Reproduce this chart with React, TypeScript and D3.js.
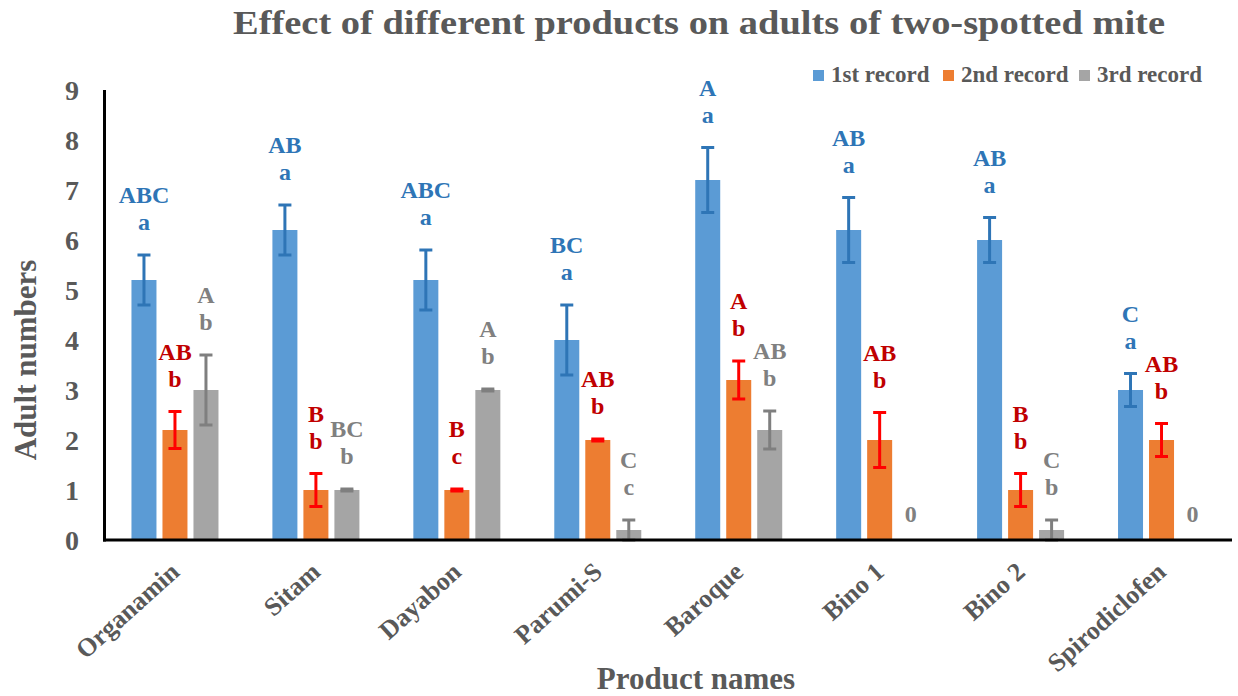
import React from "react";
import * as d3 from "d3";

const categories = ["Organamin", "Sitam", "Dayabon", "Parumi-S", "Baroque", "Bino 1", "Bino 2", "Spirodiclofen"];
const seriesNames = ["1st record", "2nd record", "3rd record"];
const record1 = [5.2, 6.2, 5.2, 4.0, 7.2, 6.2, 6.0, 3.0];
const record1Err = [0.5, 0.5, 0.6, 0.7, 0.65, 0.65, 0.45, 0.33];
const record2 = [2.2, 1.0, 1.0, 2.0, 3.2, 2.0, 1.0, 2.0];
const record2Err = [0.37, 0.33, 0.02, 0.02, 0.38, 0.55, 0.33, 0.33];
const record3 = [3.0, 1.0, 3.0, 0.2, 2.2, 0, 0.2, 0];
const record3Err = [0.7, 0.02, 0.02, 0.2, 0.38, 0, 0.2, 0];
const upper1 = ["ABC", "AB", "ABC", "BC", "A", "AB", "AB", "C"];
const lower1 = ["a", "a", "a", "a", "a", "a", "a", "a"];
const upper2 = ["AB", "B", "B", "AB", "A", "AB", "B", "AB"];
const lower2 = ["b", "b", "c", "b", "b", "b", "b", "b"];
const upper3 = ["A", "BC", "A", "C", "AB", "", "C", ""];
const lower3 = ["b", "b", "b", "c", "b", "0", "b", "0"];
const yTicks = [0, 1, 2, 3, 4, 5, 6, 7, 8, 9];

const barColors = ["#5B9BD5", "#ED7D31", "#A5A5A5"];
const errColors = ["#2E75B6", "#FF0000", "#7F7F7F"];
const labelColors = ["#2E75B6", "#C00000", "#808080"];
const textGray = "#595959";
const FONT = "'Liberation Serif', 'Times New Roman', Times, serif";
const tf: React.CSSProperties = { fontFamily: FONT, fontWeight: 700 };

export default function App() {
  const W = 1238, H = 696;
  const left = 104.5, right = 1232, top = 90, bottom = 540;
  const x = d3.scaleBand<string>().domain(categories).range([left, right]).paddingInner(0).paddingOuter(0);
  const y = d3.scaleLinear().domain([0, 9]).range([bottom, top]);
  const xs = d3.scaleBand<number>().domain([0, 1, 2]).range([-43.5, 43.5]).paddingInner(6 / 31).paddingOuter(0);
  const values = [record1, record2, record3];
  const errs = [record1Err, record2Err, record3Err];
  const uppers = [upper1, upper2, upper3];
  const lowers = [lower1, lower2, lower3];
  const bw = xs.bandwidth();
  const legendX = [813, 943, 1079];

  return (
    <svg width={W} height={H} style={{ position: "absolute", left: 0, top: 0, background: "#fff" }}>
      <text x={233} y={34} fontSize={33} fill={textGray} style={tf} textLength={932} lengthAdjust="spacingAndGlyphs">
        Effect of different products on adults of two-spotted mite
      </text>
      {seriesNames.map((s, i) => (
        <g key={s}>
          <rect x={legendX[i]} y={70} width={11} height={11} fill={barColors[i]} />
          <text x={legendX[i] + 18} y={82} fontSize={23} fill={textGray} style={tf}>{s}</text>
        </g>
      ))}
      {yTicks.map((t) => (
        <text key={t} x={79} y={y(t)} dy="0.35em" textAnchor="end" fontSize={28} fill={textGray} style={tf}>{t}</text>
      ))}
      {categories.map((c, ci) => {
        const cx = (x(c) as number) + x.bandwidth() / 2;
        return (
          <g key={c}>
            {values.map((vals, si) => {
              const bx = cx + (xs(si) as number);
              const mid = bx + bw / 2;
              const v = vals[ci];
              const e = errs[si][ci];
              const eTop = y(v + e);
              const eBot = y(Math.max(0, v - e));
              return (
                <g key={si}>
                  {v > 0 && <rect x={bx} y={y(v)} width={bw} height={y(0) - y(v)} fill={barColors[si]} />}
                  {v > 0 && (
                    <g stroke={errColors[si]} strokeWidth={3}>
                      <line x1={mid} x2={mid} y1={eTop} y2={eBot} />
                      <line x1={mid - 6.5} x2={mid + 6.5} y1={eTop} y2={eTop} />
                      <line x1={mid - 6.5} x2={mid + 6.5} y1={eBot} y2={eBot} />
                    </g>
                  )}
                  {v > 0 ? (
                    <g fill={labelColors[si]} fontSize={24} textAnchor="middle">
                      <text x={mid} y={eTop - 60} dy="0.35em" style={tf}>{uppers[si][ci]}</text>
                      <text x={mid} y={eTop - 33} dy="0.35em" style={tf}>{lowers[si][ci]}</text>
                    </g>
                  ) : (
                    <text x={mid} y={y(0) - 26} dy="0.35em" textAnchor="middle" fontSize={24} fill={labelColors[si]} style={tf}>
                      {lowers[si][ci]}
                    </text>
                  )}
                </g>
              );
            })}
            <text
              transform={`translate(${cx + 6},${574}) rotate(-42)`}
              textAnchor="end"
              fontSize={26}
              fill={textGray}
              style={tf}
            >
              {c}
            </text>
          </g>
        );
      })}
      <line x1={left} x2={left} y1={top} y2={bottom + 1.5} stroke="#000" strokeWidth={3} />
      <line x1={left - 1.5} x2={right} y1={bottom} y2={bottom} stroke="#000" strokeWidth={3} />
      <text transform={`translate(36,360) rotate(-90)`} textAnchor="middle" fontSize={31} fill={textGray} style={tf}>
        Adult numbers
      </text>
      <text x={696} y={689} textAnchor="middle" fontSize={31} fill={textGray} style={tf}>
        Product names
      </text>
    </svg>
  );
}
